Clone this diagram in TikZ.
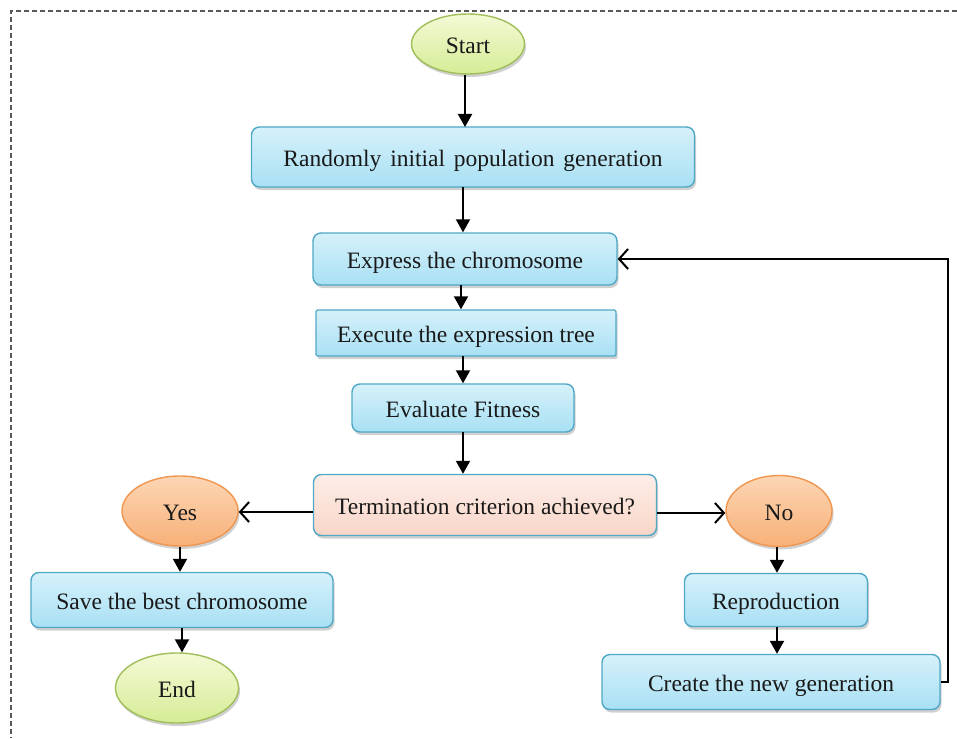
\documentclass[tikz,border=0pt]{standalone}
\usepackage{fontspec}
\setmainfont{Liberation Serif}
\usetikzlibrary{shapes.geometric,arrows.meta,shadows}
\definecolor{bline}{RGB}{80,168,198}
\definecolor{btop}{RGB}{214,241,250}
\definecolor{bbot}{RGB}{168,224,244}
\definecolor{gline}{RGB}{160,190,90}
\definecolor{gtop}{RGB}{244,250,214}
\definecolor{gbot}{RGB}{214,236,150}
\definecolor{oline}{RGB}{240,150,80}
\definecolor{otop}{RGB}{252,214,180}
\definecolor{obot}{RGB}{248,176,120}
\definecolor{ptop}{RGB}{253,238,232}
\definecolor{pbot}{RGB}{248,214,200}
\definecolor{txt}{RGB}{25,25,25}
\begin{document}
\begin{tikzpicture}[x=1pt,y=-1pt,
  every node/.style={font=\fontsize{23.5}{28}\selectfont, text=txt, inner sep=0pt, text height=20pt, text depth=1pt},
  shad/.style={drop shadow={shadow xshift=1.5pt, shadow yshift=-3pt, opacity=0.3, fill=black!60}},
  bluebox/.style={rectangle, rounded corners=8pt, draw=bline, line width=1.4pt, top color=btop, bottom color=bbot, shad},
  flatbox/.style={bluebox, rounded corners=1.5pt},
  pinkbox/.style={rectangle, rounded corners=8pt, draw=bline, line width=1.4pt, top color=ptop, bottom color=pbot, shad},
  greenell/.style={ellipse, draw=gline, line width=1.4pt, top color=gtop, bottom color=gbot, shad},
  orangeell/.style={ellipse, draw=oline, line width=1.4pt, top color=otop, bottom color=obot, shad},
  flow/.style={line width=2pt, -{Triangle[length=13pt,width=14pt]}},
  openflow/.style={line width=2pt, -{Straight Barb[length=9pt,width=20pt,line width=2pt]}}
]
\useasboundingbox (0,0) rectangle (957,738);
\fill[white] (0,0) rectangle (957,738);
% dashed frame (top and left edges visible)
\draw[black!65, line width=1.3pt, dash pattern=on 5pt off 3pt] (957,11) -- (11,11) -- (11,738);

\node[greenell, minimum width=113pt, minimum height=60pt] (start) at (468,44) {Start};
\node[bluebox, minimum width=443pt, minimum height=60pt] (rand) at (473,157) {Randomly\hspace{3pt} initial\hspace{3pt} population\hspace{3pt} generation};
\node[bluebox, minimum width=304pt, minimum height=52pt] (expr) at (465,259) {Express the chromosome};
\node[flatbox, minimum width=300pt, minimum height=46pt] (exec) at (466,333) {Execute the expression tree};
\node[bluebox, minimum width=222pt, minimum height=48pt] (eval) at (463,408) {Evaluate Fitness};
\node[pinkbox, minimum width=343pt, minimum height=61pt] (term) at (485,505) {Termination criterion achieved?};
\node[orangeell, minimum width=116pt, minimum height=70pt] (yes) at (180,511) {Yes};
\node[orangeell, minimum width=106pt, minimum height=71pt] (no) at (779,511) {No};
\node[bluebox, minimum width=302pt, minimum height=55pt] (save) at (182,600) {Save the best chromosome};
\node[greenell, minimum width=123pt, minimum height=70pt] (end) at (177,688) {End};
\node[bluebox, minimum width=183pt, minimum height=53pt] (repr) at (776,600) {Reproduction};
\node[bluebox, minimum width=338pt, minimum height=55pt] (create) at (771,682) {Create the new generation};
\coordinate (fbr) at (948,682);
\coordinate (fbt) at (948,259);

\draw[flow] (start.south -| 465,0) -- (465,127);
\draw[flow] (463,187) -- (expr.north -| 463,0);
\draw[flow] (461,285) -- (exec.north -| 461,0);
\draw[flow] (463,356) -- (eval.north -| 463,0);
\draw[flow] (463,432) -- (term.north -| 463,0);
\draw[openflow] (term.west |- 0,512) -- (yes.east |- 0,512);
\draw[openflow] (term.east |- 0,513) -- (no.west |- 0,513);
\draw[flow] (yes.south -| 180,0) -- (save.north -| 180,0);
\draw[flow] (save.south -| 182,0) -- (end.north -| 182,0);
\draw[flow] (no.south -| 777,0) -- (repr.north -| 777,0);
\draw[flow] (repr.south -| 777,0) -- (create.north -| 777,0);
\draw[openflow] (create.east) -- (fbr) -- (fbt) -- (expr.east);
\end{tikzpicture}
\end{document}
